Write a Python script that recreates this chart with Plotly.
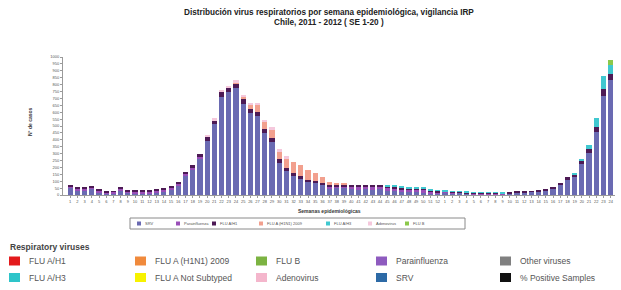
import plotly.graph_objects as go

# ---------------- data ----------------
weeks_2011 = [str(w) for w in range(1, 53)]
weeks_2012 = [str(w) for w in range(1, 25)]
week_labels = weeks_2011 + weeks_2012

srv = [52, 35, 35, 45, 18, 11, 14, 35, 16, 12, 12, 12, 20, 28, 42, 70, 143, 185, 265, 393,
       513, 713, 743, 773, 663, 593, 573, 448, 383, 233, 173, 140, 115, 92, 85, 70, 43, 48, 50, 40,
       38, 42, 38, 40, 32, 28, 22, 20, 20, 18, 14, 11, 17, 12, 15, 9, 7, 7, 5, 5,
       3, 13, 20, 17, 23, 27, 34, 50, 76, 110, 132, 222, 305, 455, 720, 835]
parainfluenza = [12, 12, 12, 12, 12, 8, 8, 12, 12, 12, 12, 10, 12, 12, 12, 12, 12, 10, 10, 0,
                 0, 0, 0, 0, 0, 0, 0, 0, 0, 0, 0, 0, 0, 0, 0, 0, 15, 15, 15, 20,
                 20, 20, 20, 20, 20, 20, 20, 20, 20, 20, 12, 10, 5, 5, 5, 5, 5, 5, 5, 5,
                 5, 0, 0, 0, 0, 0, 0, 0, 0, 0, 0, 0, 0, 0, 0, 0]
flu_a_h1 = [8, 8, 8, 8, 8, 6, 6, 8, 8, 8, 8, 8, 8, 8, 8, 8, 10, 20, 25, 30,
            30, 35, 35, 35, 30, 30, 30, 30, 30, 25, 25, 20, 20, 18, 15, 15, 12, 10, 10, 10,
            10, 10, 10, 10, 10, 10, 10, 10, 10, 10, 8, 8, 5, 5, 5, 5, 5, 5, 5, 5,
            5, 5, 5, 5, 5, 5, 8, 10, 12, 18, 20, 25, 30, 35, 45, 45]
flu_a_2009 = [0, 0, 0, 0, 0, 0, 0, 0, 0, 0, 0, 0, 0, 0, 0, 0, 0, 0, 0, 0,
              0, 0, 0, 10, 20, 35, 50, 55, 65, 60, 70, 80, 80, 70, 60, 45, 25, 15, 10, 0,
              0, 0, 0, 0, 0, 0, 0, 0, 0, 0, 0, 0, 0, 0, 0, 0, 0, 0, 0, 0,
              0, 0, 0, 0, 0, 0, 0, 0, 0, 0, 0, 0, 0, 0, 0, 0]
flu_a_h3 = [0, 0, 0, 0, 0, 0, 0, 0, 0, 0, 0, 0, 0, 0, 0, 0, 0, 0, 0, 0,
            0, 0, 0, 0, 0, 0, 0, 0, 0, 0, 0, 0, 0, 0, 0, 0, 0, 0, 0, 0,
            0, 0, 0, 0, 10, 10, 10, 10, 10, 10, 8, 6, 3, 3, 3, 3, 3, 3, 3, 3,
            3, 0, 0, 0, 0, 0, 0, 0, 0, 0, 8, 15, 25, 70, 95, 60]
adenovirus = [0, 0, 0, 0, 0, 0, 0, 0, 0, 0, 0, 0, 0, 0, 0, 0, 0, 0, 0, 12,
              12, 12, 12, 12, 12, 12, 12, 12, 12, 12, 12, 0, 0, 0, 0, 0, 0, 0, 0, 0,
              0, 0, 0, 0, 0, 0, 0, 0, 0, 0, 0, 0, 0, 0, 0, 0, 0, 0, 0, 0,
              0, 0, 0, 0, 0, 0, 0, 0, 0, 0, 0, 0, 0, 0, 0, 0]
flu_b = [0] * 75 + [35]

legend_names = ["FLU A/H1", "FLU A/H3", "FLU A (H1N1) 2009", "FLU A Not Subtyped", "FLU B",
                "Adenovirus", "Parainfluenza", "SRV", "Other viruses", "% Positive Samples"]
legend_colors = ["#e31a1c", "#2ec4c9", "#f08a3c", "#f7f200", "#7cb342",
                 "#f4b6cc", "#8e5bbf", "#2d6aa6", "#808080", "#111111"]

# ---------------- figure ----------------
W, H = 621, 290
L, R, T, B = 63, 6, 57, 95
PW, PH = W - L - R, H - T - B


def px2x(px):
    return (px - L) / PW


def py2y(py):
    return (H - B - py) / PH


x = list(range(len(week_labels)))
series = [
    ("SRV", srv, "#6a6ab2"),
    ("Parainfluenza", parainfluenza, "#9a4fb8"),
    ("FLU A/H1", flu_a_h1, "#4d1a55"),
    ("FLU A (H1N1) 2009", flu_a_2009, "#f2a08e"),
    ("FLU A/H3", flu_a_h3, "#40c8d0"),
    ("Adenovirus", adenovirus, "#f5c8dc"),
    ("FLU B", flu_b, "#8cc84b"),
]

fig = go.Figure()
for name, vals, col in series:
    fig.add_trace(go.Bar(x=x, y=vals, name=name, marker=dict(color=col, line=dict(width=0))))

fig.update_layout(
    width=W, height=H,
    margin=dict(l=L, r=R, t=T, b=B, autoexpand=False),
    barmode="stack", bargap=0.28,
    paper_bgcolor="white", plot_bgcolor="white",
    font=dict(family="Liberation Sans, Arial", color="#333333"),
    showlegend=False,
    xaxis=dict(range=[-1.0, 75.6], tickmode="array", tickvals=x, ticktext=week_labels,
               tickangle=0, tickfont=dict(size=4, color="#555555"), showgrid=False,
               showline=True, linecolor="#9a9a9a", linewidth=1, ticks="outside",
               ticklen=2, tickcolor="#9a9a9a", zeroline=False),
    yaxis=dict(range=[0, 1000], dtick=50, tickfont=dict(size=4, color="#555555"),
               showgrid=False, showline=True, linecolor="#9a9a9a", linewidth=1,
               ticks="outside", ticklen=2, tickcolor="#9a9a9a", zeroline=False),
)

# title
fig.add_annotation(x=px2x(329), y=py2y(13), xref="paper", yref="paper", showarrow=False,
                   text="<b>Distribución virus respiratorios por semana epidemiológica, vigilancia IRP</b>",
                   font=dict(size=8.2, color="#222222"), xanchor="center", yanchor="middle")
fig.add_annotation(x=px2x(329), y=py2y(22), xref="paper", yref="paper", showarrow=False,
                   text="<b>Chile, 2011 - 2012 ( SE 1-20 )</b>",
                   font=dict(size=8.2, color="#222222"), xanchor="center", yanchor="middle")
# axis titles
fig.add_annotation(x=px2x(30), y=py2y(122), xref="paper", yref="paper", showarrow=False,
                   text="<b>N° de casos</b>", textangle=-90,
                   font=dict(size=5, color="#333333"), xanchor="center", yanchor="middle")
fig.add_annotation(x=px2x(329), y=py2y(211), xref="paper", yref="paper", showarrow=False,
                   text="<b>Semanas epidemiológicas</b>",
                   font=dict(size=5, color="#333333"), xanchor="center", yanchor="middle")

# inner (chart) legend box
fig.add_shape(type="rect", xref="paper", yref="paper",
              x0=px2x(130), x1=px2x(465), y0=py2y(229), y1=py2y(218),
              fillcolor="white", line=dict(color="#8a8a8a", width=1))
inner_x = [137, 176, 212, 259, 326, 368, 405]
for (name, vals, col), ix in zip(series, inner_x):
    fig.add_shape(type="rect", xref="paper", yref="paper",
                  x0=px2x(ix), x1=px2x(ix + 4), y0=py2y(225.5), y1=py2y(221.5),
                  fillcolor=col, line=dict(width=0))
    fig.add_annotation(x=px2x(ix + 6), y=py2y(223.5), xref="paper", yref="paper",
                       showarrow=False, text=name, font=dict(size=4, color="#555555"),
                       xanchor="left", yanchor="middle")

# external legend
fig.add_annotation(x=px2x(8), y=py2y(247), xref="paper", yref="paper", showarrow=False,
                   text="<b>Respiratory viruses</b>", font=dict(size=8.5, color="#444444"),
                   xanchor="left", yanchor="middle")
col_x = [9, 135, 256, 376, 500]
row_y = [261, 277.5]
for i, (nm, cl) in enumerate(zip(legend_names, legend_colors)):
    c = i // 2
    r = i % 2
    sx = col_x[c]
    sy = row_y[r]
    fig.add_shape(type="rect", xref="paper", yref="paper",
                  x0=px2x(sx), x1=px2x(sx + 11), y0=py2y(sy - 4.5), y1=py2y(sy + 4.5),
                  fillcolor=cl, line=dict(width=0))
    fig.add_annotation(x=px2x(sx + 18), y=py2y(sy), xref="paper", yref="paper",
                       showarrow=False, text=nm, font=dict(size=8.5, color="#555555"),
                       xanchor="left", yanchor="middle")

fig.write_html("out.html", config={"displayModeBar": False},
               post_script="document.body.style.margin='0px';document.body.style.overflow='hidden';")
